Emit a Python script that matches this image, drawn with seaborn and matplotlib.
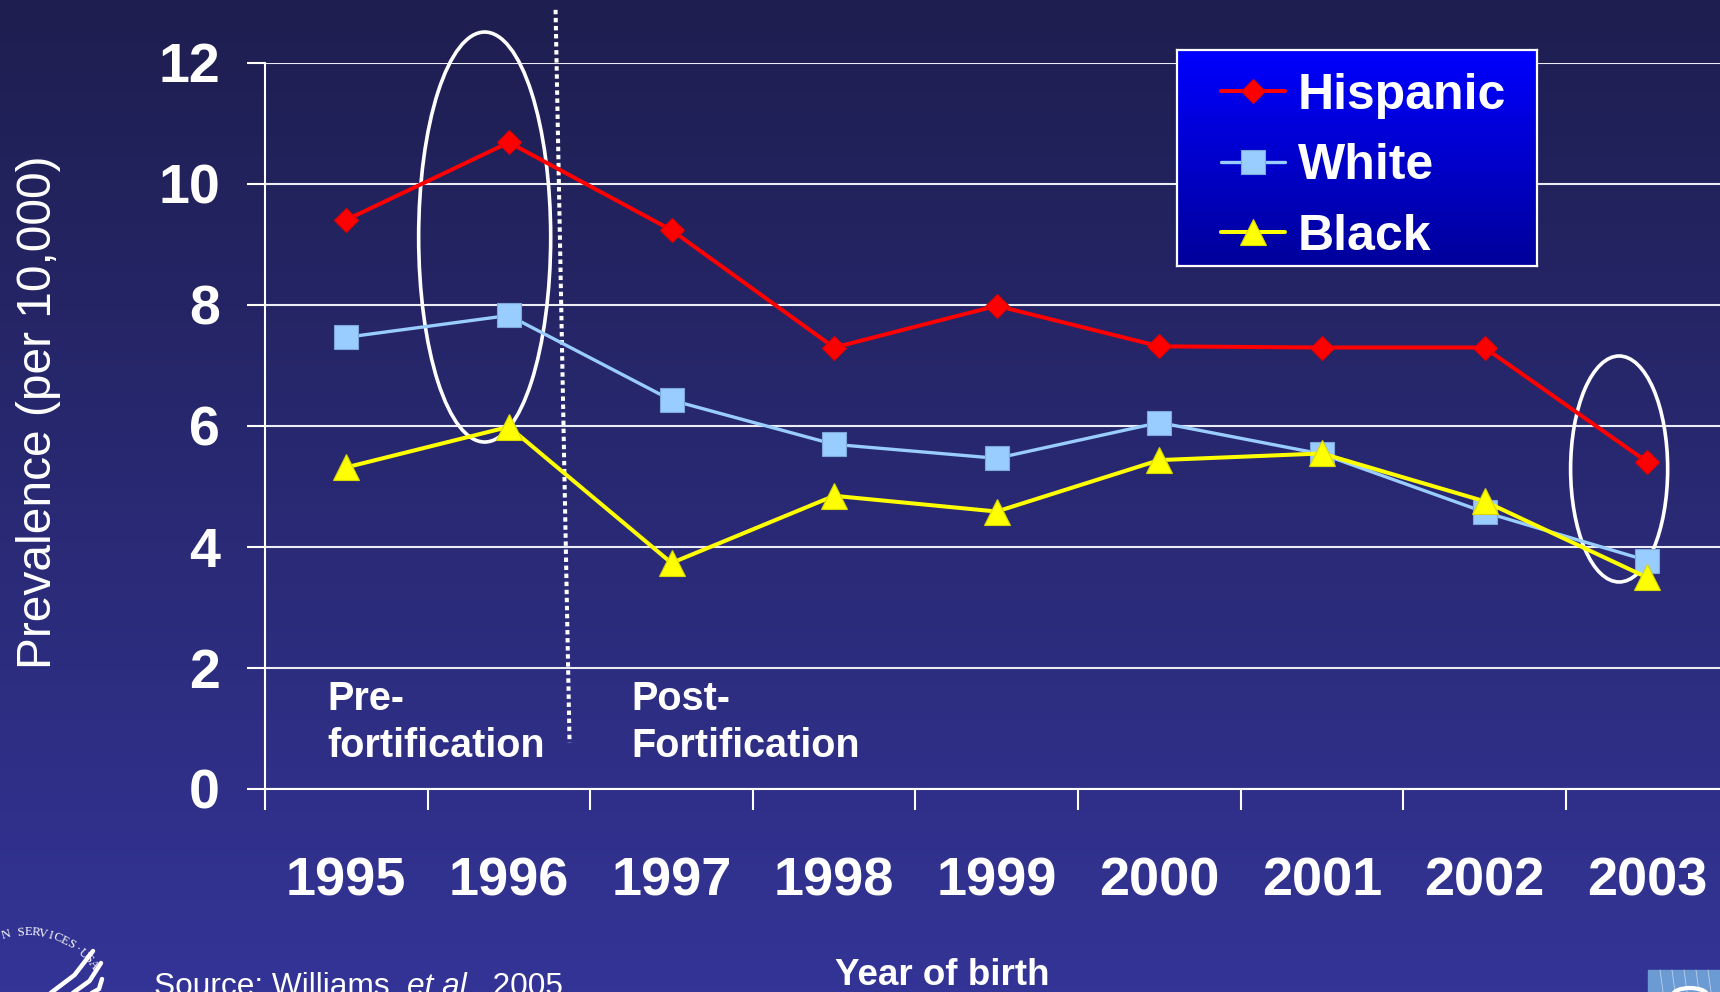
import numpy as np
import pandas as pd
import matplotlib
matplotlib.use("Agg")
import matplotlib.pyplot as plt
import seaborn as sns
from matplotlib.patches import Ellipse, Rectangle
from matplotlib.colors import LinearSegmentedColormap

# ---------------- data ----------------
years = [1995, 1996, 1997, 1998, 1999, 2000, 2001, 2002, 2003]
year_labels = [str(y) for y in years]
hispanic = [9.40, 10.68, 9.23, 7.29, 7.98, 7.31, 7.29, 7.29, 5.40]
white = [7.46, 7.82, 6.42, 5.69, 5.46, 6.05, 5.53, 4.57, 3.77]
black = [5.31, 5.98, 3.73, 4.84, 4.58, 5.43, 5.54, 4.75, 3.49]
groups = ["Hispanic", "White", "Black"]
y_ticks = [0, 2, 4, 6, 8, 10, 12]

sns.set_style("white")
plt.rcParams["font.family"] = ["Liberation Sans", "DejaVu Sans"]

df = pd.DataFrame({
    "Year": years * 3,
    "Prevalence": hispanic + white + black,
    "Group": [g for g in groups for _ in years],
})

W, H = 1720, 992
fig = plt.figure(figsize=(W / 100, H / 100), dpi=100)

# background gradient
grad = np.linspace(0, 1, 256).reshape(-1, 1)
bg = fig.add_axes([0, 0, 1, 1], zorder=-10)
bg.imshow(grad, aspect="auto", extent=[0, 1, 0, 1],
          cmap=LinearSegmentedColormap.from_list("bg", ["#1E1E50", "#343497"]))
bg.set_xlim(0, 1); bg.set_ylim(0, 1)
bg.axis("off")

# main axes
ax_left, ax_bottom_px, ax_top_px = 265, 788.7, 62.5
ax = fig.add_axes([ax_left / W, 1 - ax_bottom_px / H, 1 - ax_left / W,
                   (ax_bottom_px - ax_top_px) / H])
ax.set_facecolor("none")

styles = {
    "Hispanic": dict(color="#FF0000", marker="D", ms=12.7, lw=2.9, mec="#E00000"),
    "White": dict(color="#99CCFF", marker="s", ms=17.5, lw=2.4, mec="#7FA8DA"),
    "Black": dict(color="#FFFF00", marker="^", ms=18.5, lw=2.9, mec="#D8D800"),
}
for g in groups:
    s = styles[g]
    sns.lineplot(data=df[df["Group"] == g], x="Year", y="Prevalence", ax=ax,
                 color=s["color"], marker=s["marker"], markersize=s["ms"],
                 linewidth=s["lw"], markeredgecolor=s["mec"], markeredgewidth=0.8,
                 label=g, zorder=4, clip_on=False)

handles, labels = ax.get_legend_handles_labels()
if ax.get_legend() is not None:
    ax.get_legend().remove()

ax.set_xlabel("")
ax.set_ylabel("")

# ticks (set before limits: set_xticks can widen the view)
ax.set_xticks([y - 0.5 for y in years])
ax.set_xticklabels([])
ax.set_xticks(years, minor=True)
ax.set_xticklabels(year_labels, minor=True, fontsize=39, fontweight="bold", color="white")
ax.tick_params(axis="x", which="major", bottom=True, length=15, width=1.5,
               color="white", direction="out")
ax.tick_params(axis="x", which="minor", bottom=True, length=0, pad=48.5)
ax.set_yticks(y_ticks)
ax.set_yticklabels([str(v) for v in y_ticks], fontsize=40, fontweight="bold", color="white")
ax.tick_params(axis="y", left=True, length=13, width=1.5, color="white",
               direction="out", pad=19.5)

ax.set_xlim(years[0] - 0.5, years[0] - 0.5 + (W - ax_left) / 162.6)
ax.set_ylim(0, 12)

ax.yaxis.grid(True, color="#ECECF4", linewidth=1.5)
ax.xaxis.grid(False)
ax.set_axisbelow(True)
for side in ["top", "right"]:
    ax.spines[side].set_visible(False)
for side in ["left", "bottom"]:
    ax.spines[side].set_color("white")
    ax.spines[side].set_linewidth(1.5)

# annotations: ellipses and dotted divider
ax.add_patch(Ellipse((1995.851, 9.116), 0.812, 6.775, fill=False, ec="white",
                     lw=2.6, clip_on=False, zorder=2))
ax.add_patch(Ellipse((2002.828, 5.283), 0.597, 3.734, fill=False, ec="white",
                     lw=2.6, clip_on=False, zorder=2))
ax.plot([1996.287, 1996.373], [12.87, 0.755], color="white", lw=2.9,
        linestyle=(0, (1.1, 0.9)), dash_capstyle="butt", clip_on=False, zorder=2)

txt_kw = dict(color="white", fontsize=28.5, fontweight="bold", va="baseline", ha="left")
ax.text(1994.885, 1.30, "Pre-", **txt_kw)
ax.text(1994.885, 0.524, "fortification", **txt_kw)
ax.text(1996.755, 1.30, "Post-", **txt_kw)
ax.text(1996.755, 0.524, "Fortification", **txt_kw)

# legend box
lax = fig.add_axes([1177 / W, 1 - 266 / H, 360 / W, 216 / H], zorder=5)
lax.imshow(grad, aspect="auto", extent=[0, 1, 0, 1],
           cmap=LinearSegmentedColormap.from_list("lg", ["#0000FF", "#00009A"]))
lax.set_xlim(0, 1); lax.set_ylim(0, 1)
lax.set_xticks([]); lax.set_yticks([])
for sp in lax.spines.values():
    sp.set_color("white"); sp.set_linewidth(1.6)
lax.legend(handles, labels, loc="upper left", bbox_to_anchor=(44 / 360, 1 - 23 / 216),
           borderaxespad=0, borderpad=0, frameon=False, handlelength=1.28,
           handletextpad=0.26, labelspacing=0.49, numpoints=1,
           prop=dict(family="Liberation Sans", weight="bold", size=36),
           labelcolor="white")

# axis titles
fig.text(39 / W, 1 - 412 / H, "Prevalence (per 10,000)", rotation=90, color="white",
         fontsize=34.5, ha="center", va="center")
fig.text(942 / W, 1 - 985 / H, "Year of birth", color="white", fontsize=26.5,
         fontweight="bold", ha="center", va="baseline")

# source line (with italic part)
renderer = fig.canvas.get_renderer()
sx, sy = 153.6 / W, 1 - 995 / H
parts = [("Source: Williams, ", "normal"), ("et al.", "italic"), (", 2005", "normal")]
for txt, st in parts:
    t = fig.text(sx, sy, txt, color="white", fontsize=22.8, style=st,
                 ha="left", va="baseline")
    bb = t.get_window_extent(renderer=renderer)
    sx += bb.width / W

# HHS logo fragment (bottom-left)
logo = fig.add_axes([0, 0, 1, 1], zorder=6)
logo.set_xlim(0, W); logo.set_ylim(H, 0)
logo.axis("off")
cx, cy, r = 28, 1012, 80
arc_text = "N SERVICES·USA"
angles = np.linspace(106, 36, len(arc_text))
for ch, a in zip(arc_text, angles):
    ar = np.deg2rad(a)
    logo.text(cx + r * np.cos(ar), cy - r * np.sin(ar), ch, rotation=a - 90,
              ha="center", va="center", fontsize=9, color="white",
              family="Liberation Serif")
for (x1, y1, x2, y2) in [(93, 951, 48, 995), (101, 963, 70, 995), (102, 979, 88, 995)]:
    logo.plot([x1, (x1 + x2) / 2 + 4, x2], [y1, (y1 + y2) / 2 + 2, y2], color="white",
              lw=3.2, solid_capstyle="round")

# CDC logo fragment (bottom-right)
logo.add_patch(Rectangle((1648, 970), 72, 24, color="#6C9BD3", zorder=1))
for xx in [1660, 1672, 1684, 1696, 1708]:
    logo.plot([xx, xx + 3], [970, 992], color="#B8D0EE", lw=0.6, zorder=2)
logo.add_patch(Ellipse((1690, 995), 34, 14, fc="none", ec="white", lw=3, zorder=3))

fig.savefig("out.png", dpi=100)
